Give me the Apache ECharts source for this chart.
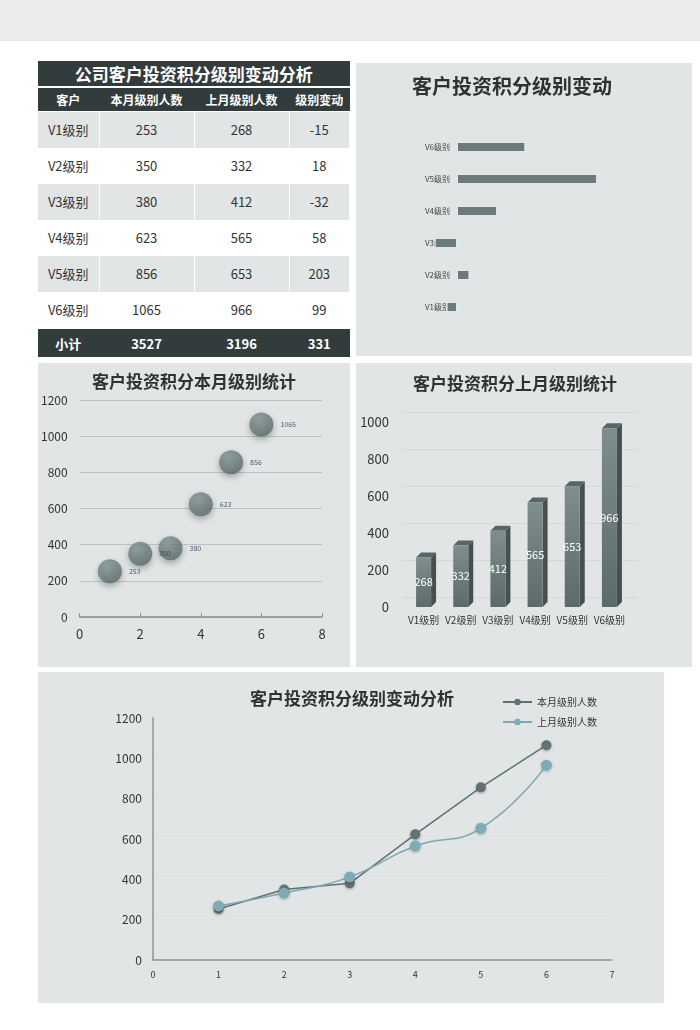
<!DOCTYPE html>
<html>
<head>
<meta charset="utf-8">
<script src="https://cdn.jsdelivr.net/npm/echarts@6/dist/echarts.min.js"></script>
<style>
  html, body { margin:0; padding:0; background:#ffffff; }
  body { width:700px; height:1030px; position:relative; overflow:hidden;
         font-family:"Noto Sans CJK SC","Noto Sans",sans-serif; }
  #topband { position:absolute; left:0; top:0; width:700px; height:41px; background:#ebebeb; }
  .panel { position:absolute; background:#e2e5e5; }
  .cell { position:absolute; display:flex; align-items:center; justify-content:center; box-sizing:border-box; }
  .dark { background:#333c3c; color:#ffffff; font-weight:bold; }
</style>
</head>
<body>
<div id="topband"></div>
<div id="table"></div>
<div id="c1" class="panel" style="left:356px;top:63px;width:336px;height:293px;"></div>
<div id="c2" class="panel" style="left:38px;top:363px;width:312px;height:304px;"></div>
<div id="c3" class="panel" style="left:356px;top:363px;width:336px;height:304px;"></div>
<div id="c4" class="panel" style="left:38px;top:672px;width:626px;height:331px;"></div>
<script>
// ---------------- data ----------------
const tableTitle = '公司客户投资积分级别变动分析';
const headers = ['客户', '本月级别人数', '上月级别人数', '级别变动'];
const categories = ['V1级别', 'V2级别', 'V3级别', 'V4级别', 'V5级别', 'V6级别'];
const thisMonth = [253, 350, 380, 623, 856, 1065];
const lastMonth = [268, 332, 412, 565, 653, 966];
const change = [-15, 18, -32, 58, 203, 99];
const totals = ['小计', '3527', '3196', '331'];
const indexX = [1, 2, 3, 4, 5, 6];
const legendNames = ['本月级别人数', '上月级别人数'];

// ---------------- table (HTML) ----------------
(function(){
  const t = document.getElementById('table');
  const colX = [38, 99.5, 194.5, 289.5];
  const colW = [60.5, 94, 94, 59.5];
  function add(x, y, w, h, text, cls, css) {
    const d = document.createElement('div');
    d.className = 'cell ' + (cls || '');
    d.style.left = x + 'px'; d.style.top = y + 'px';
    d.style.width = w + 'px'; d.style.height = h + 'px';
    Object.assign(d.style, css || {});
    d.textContent = text;
    t.appendChild(d);
  }
  add(38, 61, 311.5, 25, tableTitle, 'dark', {fontSize:'17px'});
  add(38, 88, 311.5, 22.5, '', 'dark', {});
  headers.forEach((h, i) => add(colX[i], 88, colW[i], 22.5, h, '', {color:'#fff', fontWeight:'bold', fontSize:'12px'}));
  categories.forEach((c, r) => {
    const y = 112 + r * 36;
    const light = r % 2 === 0;
    const vals = [c, String(thisMonth[r]), String(lastMonth[r]), String(change[r])];
    vals.forEach((v, i) => add(colX[i], y, colW[i], 35.5, v, '',
      {background: light ? '#e2e5e5' : '#ffffff', color:'#333', fontSize:'13px'}));
  });
  add(38, 329, 311.5, 28, '', 'dark', {});
  totals.forEach((v, i) => add(colX[i], 329, colW[i], 28, v, '', {color:'#fff', fontWeight:'bold', fontSize:'13px'}));
})();

const FONT = '"Noto Sans CJK SC","Noto Sans",sans-serif';
const plain = v => String(v);

// ---------------- chart 1: change bars ----------------
const c1 = echarts.init(document.getElementById('c1'));
c1.setOption({
  animation: false,
  textStyle: { fontFamily: FONT },
  title: { text: '客户投资积分级别变动', left: 51, top: 8,
           textStyle: { fontSize: 20, fontWeight: 'bold', color: '#2b3333', fontFamily: FONT } },
  grid: { left: 32, right: 62.5, top: 68, bottom: 33 },
  xAxis: { type: 'value', min: -100, max: 250, show: false },
  yAxis: { type: 'category', data: categories, offset: -69,
           axisLine: { show: false },
           axisTick: { show: false },
           axisLabel: { fontSize: 8, color: '#444', margin: 7, padding: [0, 0, 7, 0] },
           splitLine: { show: false } },
  series: [{ type: 'bar', data: change, barWidth: 10, z: 3,
             itemStyle: { color: '#6b7b7b', borderColor: 'rgba(255,255,255,0.7)', borderWidth: 1 } }]
});

// ---------------- chart 2: scatter (this month) ----------------
const c2 = echarts.init(document.getElementById('c2'));
c2.setOption({
  animation: false,
  textStyle: { fontFamily: FONT },
  title: { text: '客户投资积分本月级别统计', left: 'center', top: 5,
           textStyle: { fontSize: 17, fontWeight: 'bold', color: '#2b3333', fontFamily: FONT } },
  grid: { left: 38.7, right: 28, top: 37, bottom: 50 },
  xAxis: { type: 'value', min: 0, max: 8, interval: 2,
           axisLine: { show: true, lineStyle: { color: '#8a8f8f', width: 1.5 } },
           axisTick: { show: true, inside: true, length: 4, lineStyle: { color: '#8a8f8f' } },
           axisLabel: { fontSize: 13, color: '#333', margin: 11, formatter: plain },
           splitLine: { show: false } },
  yAxis: { type: 'value', min: 0, max: 1200, interval: 200,
           axisLine: { show: false }, axisTick: { show: false },
           axisLabel: { fontSize: 12, color: '#333', margin: 12, formatter: plain },
           splitLine: { show: true, lineStyle: { color: '#bcc2c2', width: 1 } } },
  series: [{ type: 'scatter', symbolSize: 24,
             data: indexX.map((x, i) => [x, thisMonth[i]]),
             itemStyle: {
               color: { type: 'radial', x: 0.4, y: 0.35, r: 0.7,
                        colorStops: [{ offset: 0, color: '#869797' }, { offset: 1, color: '#5a6a6a' }] },
               shadowBlur: 6, shadowColor: 'rgba(0,0,0,0.35)', shadowOffsetY: 3 },
             label: { show: true, position: 'right', distance: 7, fontSize: 7, color: '#1f2d5a',
                      formatter: p => p.value[1] } }]
});

// ---------------- chart 3: 3D-like bars (last month) ----------------
const c3 = echarts.init(document.getElementById('c3'));
const hw = 7.5, depth = 5;
c3.setOption({
  animation: false,
  textStyle: { fontFamily: FONT },
  title: { text: '客户投资积分上月级别统计', left: 52, top: 7,
           textStyle: { fontSize: 17, fontWeight: 'bold', color: '#2b3333', fontFamily: FONT } },
  grid: [
    { left: 49, right: 64, top: 59, bottom: 60 },
    { left: 46, right: 54, top: 49, bottom: 70 }
  ],
  xAxis: [
    { type: 'category', data: categories, gridIndex: 0,
      axisLine: { show: false }, axisTick: { show: false },
      axisLabel: { fontSize: 10, color: '#333', margin: 8, interval: 0 } },
    { type: 'category', data: categories, gridIndex: 1, show: false }
  ],
  yAxis: [
    { type: 'value', min: 0, max: 1000, interval: 200, gridIndex: 0,
      axisLine: { show: false }, axisTick: { show: false },
      axisLabel: { fontSize: 13, color: '#333', margin: 16, formatter: plain },
      splitLine: { show: false } },
    { type: 'value', min: 0, max: 1000, interval: 200, gridIndex: 1,
      axisLine: { show: false }, axisTick: { show: false }, axisLabel: { show: false },
      splitLine: { show: true, lineStyle: { color: '#d3d8d8', width: 1 } } }
  ],
  series: [
    { type: 'bar', data: lastMonth, barWidth: 15, xAxisIndex: 0, yAxisIndex: 0, z: 3,
      itemStyle: { color: { type: 'linear', x: 0, y: 0, x2: 0, y2: 1,
        colorStops: [{ offset: 0, color: '#7f8d8d' }, { offset: 1, color: '#5c6a6a' }] } },
      label: { show: true, position: 'inside', color: '#ffffff', fontSize: 11 } },
    { type: 'custom', xAxisIndex: 0, yAxisIndex: 0, z: 2,
      data: lastMonth.map((v, i) => [i, v]),
      renderItem: function (params, api) {
        const top = api.coord([api.value(0), api.value(1)]);
        const base = api.coord([api.value(0), 0]);
        return { type: 'group', children: [
          { type: 'polygon', shape: { points: [
              [top[0] + hw, top[1]], [top[0] + hw + depth, top[1] - depth],
              [base[0] + hw + depth, base[1] - depth], [base[0] + hw, base[1]]] },
            style: { fill: '#455050' } },
          { type: 'polygon', shape: { points: [
              [top[0] - hw, top[1]], [top[0] - hw + depth, top[1] - depth],
              [top[0] + hw + depth, top[1] - depth], [top[0] + hw, top[1]]] },
            style: { fill: '#586565' } }
        ] };
      } }
  ]
});

// ---------------- chart 4: line comparison ----------------
const c4 = echarts.init(document.getElementById('c4'));
c4.setOption({
  animation: false,
  textStyle: { fontFamily: FONT },
  title: { text: '客户投资积分级别变动分析', left: 207, top: 13,
           textStyle: { fontSize: 17, fontWeight: 'bold', color: '#2b3333', fontFamily: FONT } },
  legend: { orient: 'vertical', left: 459, top: 20, itemWidth: 29, itemHeight: 8, itemGap: 10,
            textStyle: { fontSize: 10, color: '#333' }, data: legendNames },
  grid: { left: 115, right: 52, top: 46, bottom: 43 },
  xAxis: { type: 'value', min: 0, max: 7, interval: 1,
           axisLine: { show: true, lineStyle: { color: '#8f9494', width: 1.5 } },
           axisTick: { show: false },
           axisLabel: { fontSize: 9, color: '#333', margin: 10, formatter: plain },
           splitLine: { show: false } },
  yAxis: { type: 'value', min: 0, max: 1200, interval: 200,
           axisLine: { show: true, lineStyle: { color: '#8f9494', width: 1.5 } },
           axisTick: { show: false },
           axisLabel: { fontSize: 12, color: '#333', margin: 11, formatter: plain },
           splitLine: { show: true, lineStyle: { color: '#dde1e1', width: 1 } } },
  series: [
    { name: legendNames[0], type: 'line', data: indexX.map((x, i) => [x, thisMonth[i]]),
      symbol: 'circle', symbolSize: 10, smooth: false,
      lineStyle: { color: '#5f7070', width: 1.5 },
      itemStyle: { color: '#627272', shadowBlur: 3, shadowColor: 'rgba(0,0,0,0.3)', shadowOffsetY: 1 } },
    { name: legendNames[1], type: 'line', data: indexX.map((x, i) => [x, lastMonth[i]]),
      symbol: 'circle', symbolSize: 11, smooth: true,
      lineStyle: { color: '#7ba8b2', width: 1.5 },
      itemStyle: { color: '#7eabb5', shadowBlur: 3, shadowColor: 'rgba(0,0,0,0.25)', shadowOffsetY: 1 } }
  ]
});
</script>
</body>
</html>
